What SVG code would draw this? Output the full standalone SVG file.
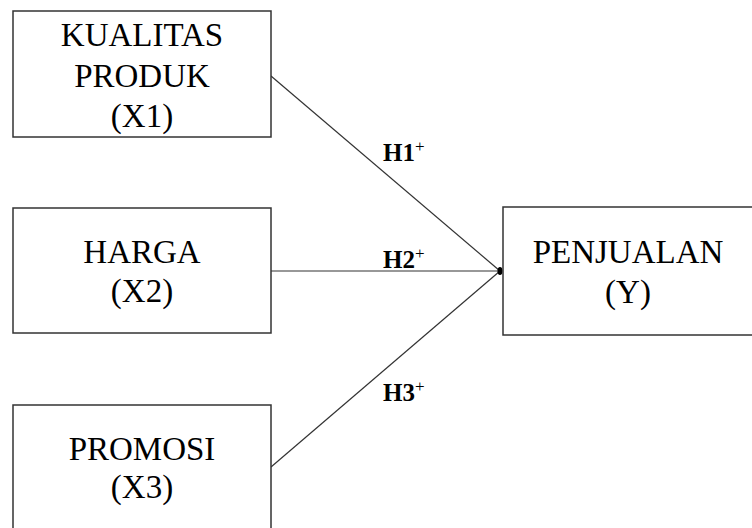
<svg xmlns="http://www.w3.org/2000/svg" width="752" height="528" viewBox="0 0 752 528">
<style>
.box{fill:#fff;stroke:#333;stroke-width:1.5}
.t{font-family:"Liberation Serif","Times New Roman",serif;font-size:33px;fill:#000;text-anchor:middle}
.h{font-family:"Liberation Serif","Times New Roman",serif;font-size:25px;font-weight:bold;fill:#000}
.sup{font-size:17px;font-weight:normal}
.c{stroke:#333;stroke-width:1.2;fill:none}
</style>
<g id="connectors">
<line class="c" x1="271" y1="76" x2="500" y2="271"/>
<line class="c" x1="271" y1="271" x2="500" y2="271"/>
<line class="c" x1="271" y1="467" x2="500" y2="271"/>
<ellipse cx="500" cy="271" rx="2.5" ry="4" fill="#000"/>
</g>
<g id="x1">
<rect class="box" x="13" y="11" width="258" height="126"/>
<text class="t" x="142" y="46">KUALITAS</text>
<text class="t" x="142" y="87">PRODUK</text>
<text class="t" x="142" y="127">(X1)</text>
</g>
<g id="x2">
<rect class="box" x="13" y="208" width="258" height="125"/>
<text class="t" x="142" y="263">HARGA</text>
<text class="t" x="142" y="302">(X2)</text>
</g>
<g id="x3">
<rect class="box" x="13" y="405" width="258" height="140"/>
<text class="t" x="142" y="460">PROMOSI</text>
<text class="t" x="142" y="498">(X3)</text>
</g>
<g id="y">
<rect class="box" x="503" y="207" width="260" height="128"/>
<text class="t" x="628" y="263">PENJUALAN</text>
<text class="t" x="628" y="303">(Y)</text>
</g>
<g id="labels">
<text class="h" x="383" y="161">H1<tspan class="sup" dy="-9">+</tspan></text>
<text class="h" x="383" y="268">H2<tspan class="sup" dy="-9">+</tspan></text>
<text class="h" x="383" y="401">H3<tspan class="sup" dy="-9">+</tspan></text>
</g>
</svg>
